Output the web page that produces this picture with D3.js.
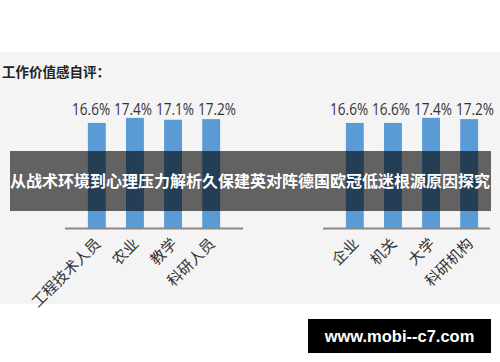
<!DOCTYPE html>
<html>
<head>
<meta charset="utf-8">
<script src="https://cdn.jsdelivr.net/npm/d3@7"></script>
<style>
html,body{margin:0;padding:0;background:#fff;}
svg{display:block;}
</style>
</head>
<body>
<svg id="chart" width="500" height="362"></svg>
<script>
const titleText = "工作价值感自评：";
const leftCategories = ["工程技术人员", "农业", "教学", "科研人员"];
const leftValues = [16.6, 17.4, 17.1, 17.2];
const rightCategories = ["企业", "机关", "大学", "科研机构"];
const rightValues = [16.6, 16.6, 17.4, 17.2];
const bannerText = "从战术环境到心理压力解析久保建英对阵德国欧冠低迷根源原因探究";
const watermarkText = "www.mobi--c7.com";

const svg = d3.select("#chart");
const cjk = "'Noto Sans CJK SC','Noto Sans',sans-serif";

// background panel
svg.append("rect").attr("x", 0).attr("y", 52).attr("width", 500).attr("height", 252).attr("fill", "#f4f4f4");

svg.append("text").attr("x", 2).attr("y", 72).attr("dy", "0.35em")
  .attr("font-family", cjk).attr("font-weight", "bold").attr("font-size", 13.5)
  .attr("fill", "#222").text(titleText);

const baseline = 228;
const y = d3.scaleLinear().domain([0, 20]).range([baseline, baseline - 126.6]);

function drawGroup(cats, vals, range, lineEnd) {
  const x = d3.scaleBand().domain(cats).range(range).paddingInner(0.53).paddingOuter(0.6);
  const g = svg.append("g");
  const data = cats.map((c, i) => ({c, v: vals[i]}));
  g.selectAll("rect.bar").data(data).join("rect")
    .attr("class", "bar")
    .attr("x", d => x(d.c)).attr("width", x.bandwidth())
    .attr("y", d => y(d.v)).attr("height", d => baseline - y(d.v))
    .attr("fill", "#5b9bd5");
  const centers = cats.map(c => x(c) + x.bandwidth() / 2);
  const mid = d3.mean(centers);
  g.selectAll("text.val").data(data).join("text")
    .attr("class", "val")
    .attr("x", (d, i) => mid + (centers[i] - mid) * 1.1)
    .attr("y", 115)
    .attr("text-anchor", "middle")
    .attr("font-family", "'Open Sans','Liberation Sans',sans-serif")
    .attr("font-size", 16).attr("fill", "#333")
    .attr("textLength", 38).attr("lengthAdjust", "spacingAndGlyphs")
    .text(d => d.v.toFixed(1) + "%");
  g.append("line").attr("x1", range[0]).attr("x2", lineEnd)
    .attr("y1", baseline + 0.5).attr("y2", baseline + 0.5)
    .attr("stroke", "#8a8a8a").attr("stroke-width", 2);
  g.selectAll("text.cat").data(data).join("text")
    .attr("class", "cat")
    .attr("transform", d => `translate(${x(d.c) + x.bandwidth() / 2 + 1},${baseline + 13}) rotate(-45)`)
    .attr("text-anchor", "end").attr("dy", "0.35em")
    .attr("font-family", cjk).attr("font-size", 15).attr("fill", "#333")
    .text(d => d.c);
}
drawGroup(leftCategories, leftValues, [65, 243], 243);
drawGroup(rightCategories, rightValues, [323, 501], 490);

// banner overlay
svg.append("rect").attr("x", 10).attr("y", 151).attr("width", 481).attr("height", 60).attr("fill", "rgba(0,0,0,0.6)");
svg.append("text").attr("x", 250).attr("y", 181).attr("dy", "0.35em").attr("text-anchor", "middle")
  .attr("font-family", cjk).attr("font-weight", "bold").attr("font-size", 16).attr("fill", "#fff")
  .text(bannerText);

// watermark
svg.append("rect").attr("x", 308).attr("y", 319).attr("width", 183).attr("height", 34).attr("fill", "#000");
svg.append("text").attr("x", 399.5).attr("y", 336).attr("dy", "0.35em").attr("text-anchor", "middle")
  .attr("font-family", "'Liberation Sans',Arial,sans-serif").attr("font-weight", "bold").attr("font-size", 16.5).attr("fill", "#fff")
  .text(watermarkText);
</script>
</body>
</html>
